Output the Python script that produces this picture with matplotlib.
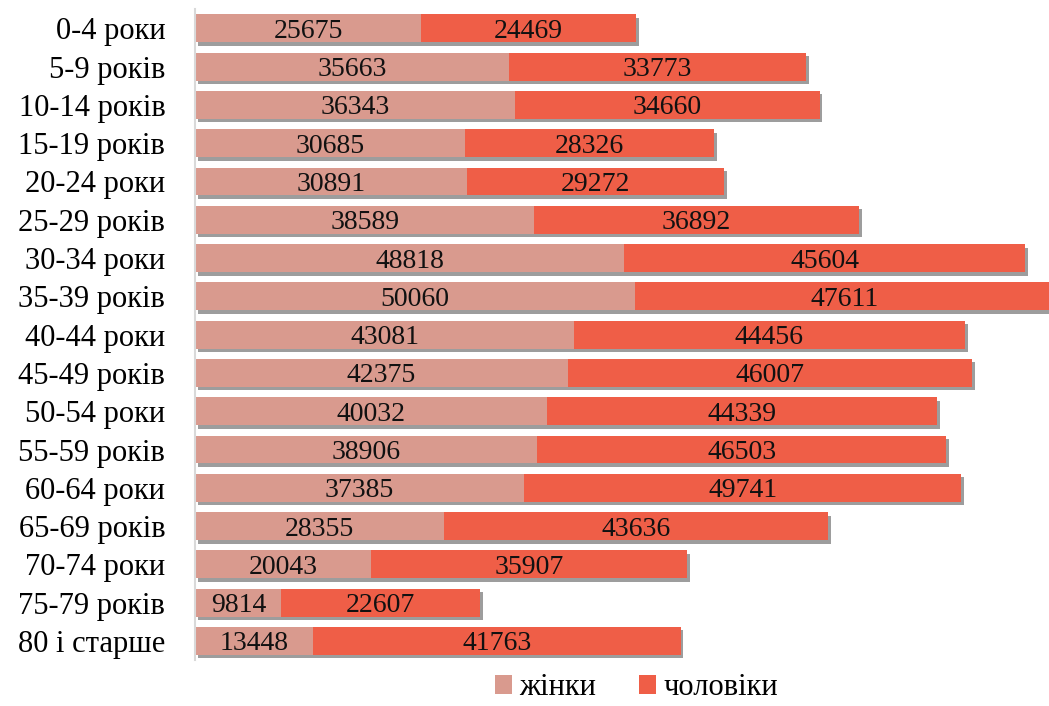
import matplotlib
matplotlib.use("Agg")
import matplotlib.pyplot as plt
import matplotlib.patheffects as pe
from matplotlib.patches import Patch

categories = ["0-4 роки", "5-9 років", "10-14 років", "15-19 років", "20-24 роки",
              "25-29 років", "30-34 роки", "35-39 років", "40-44 роки", "45-49 років",
              "50-54 роки", "55-59 років", "60-64 роки", "65-69 років", "70-74 роки",
              "75-79 років", "80 і старше"]
women = [25675, 35663, 36343, 30685, 30891, 38589, 48818, 50060, 43081, 42375,
         40032, 38906, 37385, 28355, 20043, 9814, 13448]
men = [24469, 33773, 34660, 28326, 29272, 36892, 45604, 47611, 44456, 46007,
       44339, 46503, 49741, 43636, 35907, 22607, 41763]
series_names = ["жінки", "чоловіки"]

c_w = "#D99A8E"
c_m = "#EF5E47"

plt.rcParams['font.family'] = ['Liberation Serif', 'DejaVu Serif']

fig = plt.figure(figsize=(10.49, 7.06), dpi=100)
ax = fig.add_axes([0.186, 0.065, 0.814, 0.922])

y = list(range(len(categories)))
shadow = [pe.SimplePatchShadow(offset=(2, -2.5), shadow_rgbFace=(0.3, 0.3, 0.3), alpha=0.55), pe.Normal()]
totals = [w + m for w, m in zip(women, men)]
hb = 0.73
bt = ax.barh(y, totals, height=hb, color="white", linewidth=0, path_effects=shadow, zorder=1)
b1 = ax.barh(y, women, height=hb, color=c_w, linewidth=0, zorder=2)
b2 = ax.barh(y, men, left=women, height=hb, color=c_m, linewidth=0, zorder=2)

for i in y:
    ax.text(women[i] / 2, i, str(women[i]), ha="center", va="center_baseline", fontsize=20, color="#111111", zorder=3)
    ax.text(women[i] + men[i] / 2, i, str(men[i]), ha="center", va="center_baseline", fontsize=20, color="#111111", zorder=3)

ax.set_xlim(0, 97100)
ax.set_ylim(len(categories) - 0.5, -0.5)
ax.set_yticks(y)
ax.set_yticklabels(categories, fontsize=22, va="center_baseline")
ax.tick_params(axis="y", length=0, pad=21.5)
ax.set_xticks([])
for s in ["top", "right", "bottom"]:
    ax.spines[s].set_visible(False)
ax.spines["left"].set_color("#D9D9D9")
ax.spines["left"].set_linewidth(1.5)

handles = [Patch(facecolor=c_w, label=series_names[0]), Patch(facecolor=c_m, label=series_names[1])]
fig.legend(handles=handles, loc="center", bbox_to_anchor=(0.607, 0.026), ncol=2, frameon=False,
           fontsize=22, handlelength=0.55, handleheight=0.55, handletextpad=0.25, columnspacing=1.4,
           borderpad=0.1)

fig.savefig("out.png", dpi=100)
